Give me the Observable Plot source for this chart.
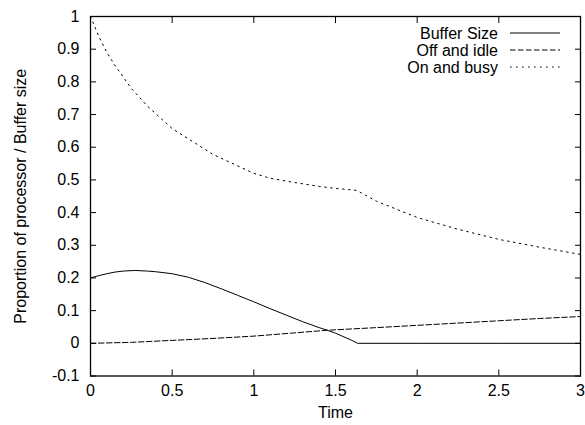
<!DOCTYPE html>
<html>
<head>
<meta charset="utf-8">
<script src="https://cdn.jsdelivr.net/npm/d3@7"></script>
<script src="https://cdn.jsdelivr.net/npm/@observablehq/plot@0.6"></script>
<style>
  html, body { margin: 0; padding: 0; background: white; }
</style>
</head>
<body>
<div id="chart"></div>
<script>
// ---- data ----
const bufferT = [0, 0.05, 0.1, 0.15, 0.2, 0.27, 0.35, 0.4, 0.5, 0.6, 0.7, 0.8, 0.9, 1.0, 1.1, 1.2, 1.3, 1.4, 1.45, 1.5, 1.6, 1.635, 2.0, 2.5, 3.0];
const bufferV = [0.2, 0.207, 0.213, 0.218, 0.221, 0.223, 0.221, 0.219, 0.213, 0.202, 0.186, 0.167, 0.147, 0.127, 0.106, 0.086, 0.066, 0.048, 0.040, 0.031, 0.009, 0, 0, 0, 0];

const idleT = [0, 0.25, 0.5, 0.75, 1.0, 1.25, 1.45, 1.75, 2.0, 2.25, 2.5, 2.75, 3.0];
const idleV = [0, 0.003, 0.009, 0.015, 0.022, 0.032, 0.040, 0.048, 0.055, 0.062, 0.069, 0.076, 0.082];

const busyT = [0, 0.05, 0.1, 0.15, 0.25, 0.35, 0.5, 0.75, 1.0, 1.1, 1.25, 1.4, 1.5, 1.63, 1.75, 2.0, 2.25, 2.5, 2.75, 3.0];
const busyV = [1, 0.94, 0.89, 0.85, 0.78, 0.725, 0.657, 0.578, 0.52, 0.505, 0.492, 0.48, 0.474, 0.468, 0.435, 0.385, 0.349, 0.318, 0.294, 0.272];

const seriesNames = ["Buffer Size", "Off and idle", "On and busy"];
const xTicks = [0, 0.5, 1, 1.5, 2, 2.5, 3];
const yTicks = [-0.1, 0, 0.1, 0.2, 0.3, 0.4, 0.5, 0.6, 0.7, 0.8, 0.9, 1];
const xLabel = "Time";
const yLabel = "Proportion of processor / Buffer size";

// ---- styles ----
const dashes = [null, "5.5,2.5", "1.6,4.4"];
const font = "'Liberation Sans', Arial, Helvetica, sans-serif";

const toRows = (T, V) => T.map((t, i) => ({t, v: V[i]}));
const series = [toRows(bufferT, bufferV), toRows(idleT, idleV), toRows(busyT, busyV)];
const fmt = d => String(+d.toFixed(2));

const plot = Plot.plot({
  width: 585,
  height: 425,
  marginLeft: 90,
  marginRight: 5,
  marginTop: 16,
  marginBottom: 49.5,
  style: {fontFamily: font, fontSize: "16px", color: "black", background: "white", overflow: "visible"},
  x: {domain: [0, 3]},
  y: {domain: [-0.1, 1]},
  marks: [
    ...series.map((rows, i) => Plot.line(rows, {
      x: "t", y: "v", stroke: "black", strokeWidth: 1,
      strokeDasharray: dashes[i] || undefined
    })),
    Plot.axisX({anchor: "bottom", ticks: xTicks, tickSize: -6, tickPadding: 15, tickFormat: fmt, label: null, fontSize: 16}),
    Plot.axisX({anchor: "top", ticks: xTicks, tickSize: -6, tickFormat: () => "", label: null}),
    Plot.axisY({anchor: "left", ticks: yTicks, tickSize: -6, tickPadding: 17, tickFormat: fmt, label: null, fontSize: 16}),
    Plot.axisY({anchor: "right", ticks: yTicks, tickSize: -6, tickFormat: () => "", label: null}),
    Plot.frame({stroke: "black", strokeWidth: 1.3}),
    Plot.text([xLabel], {frameAnchor: "bottom", dy: 42, fontSize: 16}),
    Plot.text([yLabel], {frameAnchor: "left", textAnchor: "middle", rotate: -90, dx: -70, fontSize: 16})
  ]
});

document.getElementById("chart").appendChild(plot);

// ---- legend (inside, top right) ----
const svg = d3.select(plot);
const legend = svg.append("g").attr("font-family", font).attr("font-size", 16);
const rowY = [33, 50, 67];
seriesNames.forEach((name, i) => {
  legend.append("text").attr("x", 498).attr("y", rowY[i]).attr("text-anchor", "end")
    .attr("dominant-baseline", "central").attr("fill", "black").text(name);
  legend.append("line").attr("x1", 510).attr("x2", 560).attr("y1", rowY[i]).attr("y2", rowY[i])
    .attr("stroke", "black").attr("stroke-width", 1)
    .attr("stroke-dasharray", dashes[i]);
});
</script>
</body>
</html>
